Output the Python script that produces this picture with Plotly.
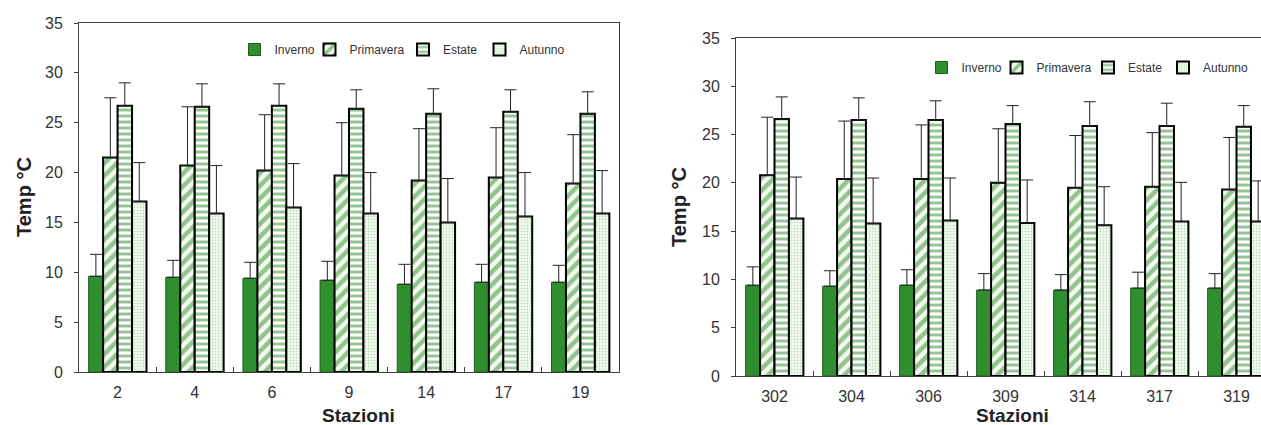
import plotly.graph_objects as go

# ---------------- data ----------------
seasons = ["Inverno", "Primavera", "Estate", "Autunno"]

stations_left = ["2", "4", "6", "9", "14", "17", "19"]
left_inverno = [9.6, 9.5, 9.4, 9.2, 8.8, 9.0, 9.0]
left_inverno_sd = [2.2, 1.7, 1.6, 1.9, 2.0, 1.8, 1.7]
left_primavera = [21.5, 20.7, 20.2, 19.7, 19.2, 19.5, 18.9]
left_primavera_sd = [6.0, 5.9, 5.6, 5.3, 5.2, 5.0, 4.9]
left_estate = [26.7, 26.6, 26.7, 26.4, 25.9, 26.1, 25.9]
left_estate_sd = [2.3, 2.3, 2.2, 1.9, 2.5, 2.2, 2.2]
left_autunno = [17.1, 15.9, 16.5, 15.9, 15.0, 15.6, 15.9]
left_autunno_sd = [3.9, 4.8, 4.4, 4.1, 4.4, 4.4, 4.3]

stations_right = ["302", "304", "306", "309", "314", "317", "319"]
right_inverno = [9.4, 9.3, 9.4, 8.9, 8.9, 9.1, 9.1]
right_inverno_sd = [1.9, 1.6, 1.6, 1.7, 1.6, 1.65, 1.5]
right_primavera = [20.8, 20.4, 20.4, 20.0, 19.5, 19.6, 19.3]
right_primavera_sd = [6.0, 6.0, 5.6, 5.6, 5.4, 5.6, 5.4]
right_estate = [26.6, 26.5, 26.5, 26.1, 25.9, 25.9, 25.8]
right_estate_sd = [2.3, 2.3, 2.0, 1.9, 2.5, 2.35, 2.2]
right_autunno = [16.3, 15.8, 16.1, 15.85, 15.6, 16.0, 16.0]
right_autunno_sd = [4.3, 4.7, 4.4, 4.45, 4.0, 4.05, 4.2]

y_ticks = [0, 5, 10, 15, 20, 25, 30, 35]

# ---------------- styles ----------------
GREEN = "#2f8f2f"
styles = {
    "Inverno": dict(color=GREEN, line=dict(color="#1f5f1f", width=1)),
    "Primavera": dict(color="#f3fbee", line=dict(color="black", width=2),
                      pattern=dict(shape="/", fgcolor="#2f8a2f", bgcolor="#f3fbee",
                                   size=9, solidity=0.5)),
    "Estate": dict(color="#ffffff", line=dict(color="black", width=2),
                   pattern=dict(shape="-", fgcolor="#2f8a2f", bgcolor="#ffffff",
                                size=6, solidity=0.5)),
    "Autunno": dict(color="#f4fbf1", line=dict(color="black", width=2),
                    pattern=dict(shape=".", fgcolor="#86c486", bgcolor="#f6fcf4",
                                 size=3, solidity=0.35)),
}

# the page body margin is removed (see post_script), so figure == window
W, H = 1261, 425


def px_x(x):
    return x / W


def px_y(y):
    return (H - y) / H


fig = go.Figure()

left_vals = [left_inverno, left_primavera, left_estate, left_autunno]
left_sds = [left_inverno_sd, left_primavera_sd, left_estate_sd, left_autunno_sd]
right_vals = [right_inverno, right_primavera, right_estate, right_autunno]
right_sds = [right_inverno_sd, right_primavera_sd, right_estate_sd, right_autunno_sd]

legend_ids_left = ["legend", "legend2", "legend3", "legend4"]
legend_ids_right = ["legend5", "legend6", "legend7", "legend8"]

for s, v, e, lg in zip(seasons, left_vals, left_sds, legend_ids_left):
    fig.add_trace(go.Bar(
        x=stations_left, y=v, name=s, marker=styles[s],
        error_y=dict(type="data", array=e, arrayminus=[0] * len(e), symmetric=False,
                     color="#222222", thickness=1, width=6),
        xaxis="x", yaxis="y", legend=lg,
    ))
for s, v, e, lg in zip(seasons, right_vals, right_sds, legend_ids_right):
    fig.add_trace(go.Bar(
        x=stations_right, y=v, name=s, marker=styles[s],
        error_y=dict(type="data", array=e, arrayminus=[0] * len(e), symmetric=False,
                     color="#222222", thickness=1, width=6),
        xaxis="x2", yaxis="y2", legend=lg,
    ))

FONT = "Liberation Sans, Arial, sans-serif"
tickfont = dict(family=FONT, size=16, color="#333333")
titlefont = dict(family=FONT, size=20, color="#222222")
xtitlefont = dict(family=FONT, size=19, color="#222222")
legfont = dict(family=FONT, size=12, color="#333333")

axis_common_x = dict(type="category", showline=True, linecolor="#404040", linewidth=1,
                     ticks="inside", ticklen=5, tickcolor="#404040", tickson="boundaries",
                     tickfont=tickfont, showgrid=False, zeroline=False,
                     ticklabelstandoff=6, automargin=False)
axis_common_y = dict(range=[0, 35], tickvals=y_ticks, showline=True, linecolor="#404040",
                     linewidth=1, ticks="outside", ticklen=4, tickcolor="#404040",
                     tickfont=tickfont, showgrid=False, zeroline=False,
                     ticklabelstandoff=8, automargin=False)

leg_common = dict(orientation="h", xanchor="left", yanchor="middle", font=legfont,
                  bgcolor="rgba(0,0,0,0)", itemwidth=30, borderwidth=0)

# swatch centres of the legend entries (window pixels)
leg_left_x = [261.5, 336.5, 430, 506.5]
leg_right_x = [948.5, 1023.5, 1115, 1190]
leg_left_y = 49.5
leg_right_y = 67.5

legends = {}
for lg, cx in zip(legend_ids_left, leg_left_x):
    legends[lg] = dict(x=px_x(cx - 27), y=px_y(leg_left_y), **leg_common)
for lg, cx in zip(legend_ids_right, leg_right_x):
    legends[lg] = dict(x=px_x(cx - 27), y=px_y(leg_right_y), **leg_common)

fig.update_layout(
    width=W, height=H,
    margin=dict(l=0, r=0, t=0, b=0, autoexpand=False),
    paper_bgcolor="white", plot_bgcolor="white",
    barmode="group", bargap=0.25, bargroupgap=0,
    showlegend=True,
    xaxis=dict(domain=[px_x(79), px_x(619)], range=[-0.5, 6.5], anchor="y", mirror=True,
               **axis_common_x),
    yaxis=dict(domain=[px_y(372), px_y(23)], anchor="x", mirror=True,
               **axis_common_y),
    xaxis2=dict(domain=[px_x(736), 1.0], range=[-0.5, 6.318], anchor="y2", mirror=True,
                **axis_common_x),
    yaxis2=dict(domain=[px_y(376), px_y(38)], anchor="x2", mirror=False,
                **axis_common_y),
    annotations=[
        dict(text="<b>Temp °C</b>", x=px_x(24), y=px_y(197), xref="paper", yref="paper",
             textangle=-90, showarrow=False, font=titlefont, xanchor="center", yanchor="middle"),
        dict(text="<b>Stazioni</b>", x=px_x(358), y=-3 / H, xref="paper", yref="paper",
             showarrow=False, font=xtitlefont, xanchor="center", yanchor="bottom"),
        dict(text="<b>Temp °C</b>", x=px_x(679), y=px_y(207), xref="paper", yref="paper",
             textangle=-90, showarrow=False, font=titlefont, xanchor="center", yanchor="middle"),
        dict(text="<b>Stazioni</b>", x=px_x(1012), y=-3 / H, xref="paper", yref="paper",
             showarrow=False, font=xtitlefont, xanchor="center", yanchor="bottom"),
    ],
)
fig.update_layout(**legends)

fig.write_html(
    "out.html",
    config={"displayModeBar": False},
    post_script="document.body.style.margin='0';"
                "document.documentElement.style.overflow='hidden';",
)
